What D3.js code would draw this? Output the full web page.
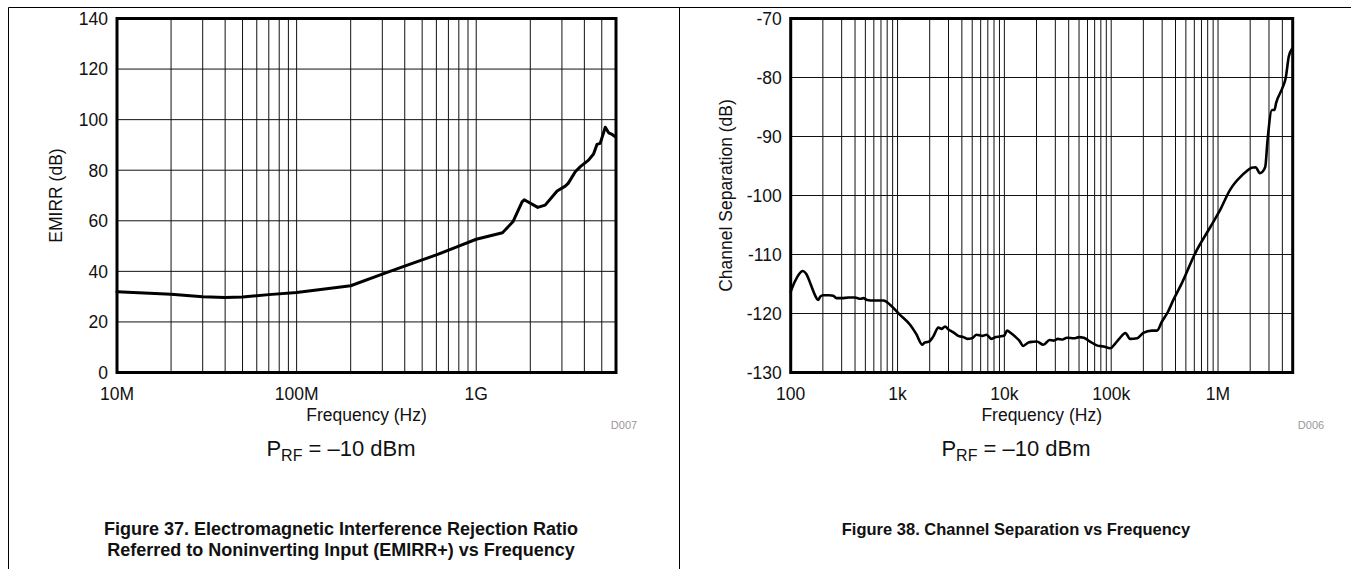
<!DOCTYPE html>
<html><head><meta charset="utf-8">
<script src="https://cdn.jsdelivr.net/npm/d3@7"></script>
<style>
body{margin:0;background:#fff}
svg{display:block}
text{font-family:"Liberation Sans",Arial,Helvetica,sans-serif}
</style>
</head><body>
<svg id="c" width="1351" height="569"></svg>
<script>
// ---------- Figure 37 data (EMIRR+ vs frequency) ----------
const emirrFreq = [1e7, 2e7, 3e7, 4e7, 5e7, 7e7, 1e8, 2e8, 3e8, 4.1e8, 6e8, 7.8e8, 1e9, 1.4e9, 1.6e9, 1.8e9, 1.85e9, 2.2e9, 2.42e9, 2.82e9, 3.13e9, 3.25e9, 3.56e9, 3.8e9, 4.22e9, 4.5e9, 4.7e9, 4.9e9, 5.23e9, 5.46e9, 5.66e9, 5.95e9];
const emirrValues = [31.9, 30.9, 30.0, 29.7, 29.9, 30.8, 31.6, 34.3, 38.9, 42.4, 46.5, 49.7, 52.7, 55.3, 59.6, 67.5, 68.3, 65.3, 66.2, 71.8, 73.7, 74.8, 79.4, 81.4, 84.0, 86.4, 90.2, 90.6, 97.0, 94.8, 94.3, 93.2];
const emirrYTicks = [0, 20, 40, 60, 80, 100, 120, 140];
const emirrXTicks = [1e7, 1e8, 1e9];
const emirrXTickLabels = ["10M", "100M", "1G"];

// ---------- Figure 38 data (channel separation vs frequency) ----------
const sepFreq = [100, 110, 120, 130, 140, 155, 170, 180, 190, 200, 230, 250, 270, 300, 350, 400, 450, 480, 520, 600, 740, 850, 1050, 1310, 1500, 1710, 1800, 1950, 2160, 2410, 2600, 2780, 3000, 3330, 3700, 4140, 4500, 4960, 5500, 6200, 6800, 7600, 8300, 9100, 10000, 10600, 11500, 12600, 13800, 15000, 16800, 18500, 20100, 23200, 26500, 29000, 31700, 35000, 38500, 45000, 50000, 55300, 63300, 73300, 85000, 98000, 109000, 120000, 136000, 150000, 175000, 200000, 240000, 268000, 298000, 340000, 382000, 460000, 611000, 850000, 1050000, 1300000, 1450000, 1630000, 1850000, 2060000, 2250000, 2460000, 2600000, 2770000, 2900000, 3200000, 3370000, 3500000, 4000000, 4300000, 4600000, 4900000, 5000000];
const sepValues = [-116.3, -114.5, -113.3, -112.8, -113.3, -115.2, -117.0, -117.7, -117.1, -116.9, -116.9, -117.0, -117.4, -117.4, -117.3, -117.3, -117.5, -117.4, -117.7, -117.8, -117.8, -118.5, -120.2, -121.9, -123.5, -125.3, -124.9, -124.8, -123.9, -122.4, -122.6, -122.2, -122.7, -123.2, -123.8, -124.0, -124.3, -124.2, -123.6, -123.8, -123.6, -124.3, -124.0, -123.9, -123.7, -122.9, -123.3, -123.9, -124.6, -125.5, -124.9, -124.8, -124.75, -125.3, -124.5, -124.6, -124.3, -124.4, -124.1, -124.2, -124.0, -124.1, -124.75, -125.4, -125.6, -125.9, -125.1, -124.2, -123.3, -124.3, -124.2, -123.3, -122.9, -122.9, -121.4, -119.7, -117.7, -114.8, -109.8, -105.3, -102.4, -99.0, -97.8, -96.8, -95.9, -95.3, -95.2, -96.2, -96.0, -95.1, -90.85, -85.5, -85.5, -84.3, -81.8, -80.1, -76.4, -75.2, -75.0];
const sepYTicks = [-130, -120, -110, -100, -90, -80, -70];
const sepXTicks = [1e2, 1e3, 1e4, 1e5, 1e6];
const sepXTickLabels = ["100", "1k", "10k", "100k", "1M"];

const svg = d3.select("#c");

// table frame
svg.append("line").attr("x1", 8.5).attr("x2", 1351).attr("y1", 7.5).attr("y2", 7.5).attr("stroke", "#000").attr("stroke-width", 1);
svg.append("line").attr("x1", 8.5).attr("x2", 8.5).attr("y1", 7.5).attr("y2", 569).attr("stroke", "#000").attr("stroke-width", 1);
svg.append("line").attr("x1", 679.5).attr("x2", 679.5).attr("y1", 7.5).attr("y2", 569).attr("stroke", "#000").attr("stroke-width", 1);

function drawPanel(cfg) {
  const x = d3.scaleLog().domain(cfg.xDomain).range([cfg.left, cfg.right]);
  const y = d3.scaleLinear().domain([cfg.yTicks[0], cfg.yTicks[cfg.yTicks.length - 1]]).range([cfg.bottom, cfg.top]);
  const g = svg.append("g");

  // minor + major vertical grid lines
  const grid = [];
  const d0 = Math.floor(Math.log10(cfg.xDomain[0])), d1 = Math.ceil(Math.log10(cfg.xDomain[1]));
  for (let d = d0; d <= d1; d++) for (let k = 1; k <= 9; k++) {
    const v = k * Math.pow(10, d);
    if (v > cfg.xDomain[0] * 1.0001 && v < cfg.xDomain[1] * 0.9999) grid.push(v);
  }
  g.selectAll(".vg").data(grid).join("line")
    .attr("x1", d => x(d)).attr("x2", d => x(d)).attr("y1", cfg.top).attr("y2", cfg.bottom)
    .attr("stroke", "#111").attr("stroke-width", 1);
  g.selectAll(".hg").data(cfg.yTicks.slice(1, -1)).join("line")
    .attr("x1", cfg.left).attr("x2", cfg.right).attr("y1", d => y(d)).attr("y2", d => y(d))
    .attr("stroke", "#111").attr("stroke-width", 1);

  // data line
  const line = d3.line().x(d => x(d[0])).y(d => y(d[1])).curve(cfg.curve);
  g.append("path").datum(cfg.freq.map((f, i) => [f, cfg.values[i]]))
    .attr("d", line).attr("fill", "none").attr("stroke", "#000")
    .attr("stroke-width", cfg.lineWidth).attr("stroke-linejoin", "round").attr("stroke-linecap", "round");

  // frame
  g.append("rect").attr("x", cfg.left).attr("y", cfg.top).attr("width", cfg.right - cfg.left).attr("height", cfg.bottom - cfg.top)
    .attr("fill", "none").attr("stroke", "#000").attr("stroke-width", 3);

  // y tick labels
  g.selectAll(".yl").data(cfg.yTicks).join("text")
    .attr("x", cfg.left - 9).attr("y", d => y(d)).attr("dy", "0.36em")
    .attr("text-anchor", "end").attr("font-size", 17.5).attr("fill", "#111").text(d => d);
  // x tick labels
  g.selectAll(".xl").data(cfg.xTicks).join("text")
    .attr("x", d => x(d)).attr("y", cfg.bottom + 27.5)
    .attr("text-anchor", "middle").attr("font-size", 17.5).attr("fill", "#111").text((d, i) => cfg.xTickLabels[i]);

  // axis titles
  g.append("text").attr("x", (cfg.left + cfg.right) / 2).attr("y", cfg.bottom + 48.5)
    .attr("text-anchor", "middle").attr("font-size", 17.5).attr("fill", "#111").text("Frequency (Hz)");
  g.append("text").attr("transform", `translate(${cfg.yTitleX},${(cfg.top + cfg.bottom) / 2}) rotate(-90)`)
    .attr("text-anchor", "middle").attr("font-size", 17.5).attr("fill", "#111").text(cfg.yTitle);

  // figure id
  g.append("text").attr("x", cfg.idX).attr("y", cfg.bottom + 56).attr("text-anchor", "middle")
    .attr("font-size", 11).attr("fill", "#999").text(cfg.id);

  // condition text
  const t = g.append("text").attr("x", cfg.condX).attr("y", cfg.bottom + 83).attr("text-anchor", "middle")
    .attr("font-size", 22).attr("fill", "#111");
  t.append("tspan").text("P");
  t.append("tspan").attr("font-size", 16).attr("dy", 5).text("RF");
  t.append("tspan").attr("dy", -5).text(" = \u201310 dBm");

  // caption
  cfg.caption.forEach((c, i) => {
    g.append("text").attr("x", cfg.condX).attr("y", 534.5 + i * 21.5).attr("text-anchor", "middle")
      .attr("font-size", cfg.captionSize).attr("font-weight", "bold").attr("fill", "#111").text(c);
  });
}

drawPanel({
  left: 117, right: 616, top: 18.5, bottom: 372.5,
  xDomain: [1e7, 6e9], yTicks: emirrYTicks, xTicks: emirrXTicks, xTickLabels: emirrXTickLabels,
  freq: emirrFreq, values: emirrValues, curve: d3.curveLinear, lineWidth: 3,
  yTitle: "EMIRR (dB)", yTitleX: 61.5, id: "D007", idX: 624, condX: 341, captionSize: 18,
  caption: ["Figure 37. Electromagnetic Interference Rejection Ratio", "Referred to Noninverting Input (EMIRR+) vs Frequency"]
});
drawPanel({
  left: 790.7, right: 1292.7, top: 18.5, bottom: 372.5,
  xDomain: [1e2, 5e6], yTicks: sepYTicks, xTicks: sepXTicks, xTickLabels: sepXTickLabels,
  freq: sepFreq, values: sepValues, curve: d3.curveMonotoneX, lineWidth: 2.6,
  yTitle: "Channel Separation (dB)", yTitleX: 731.5, id: "D006", idX: 1311, condX: 1016, captionSize: 16.5,
  caption: ["Figure 38. Channel Separation vs Frequency"]
});
</script>
</body></html>
